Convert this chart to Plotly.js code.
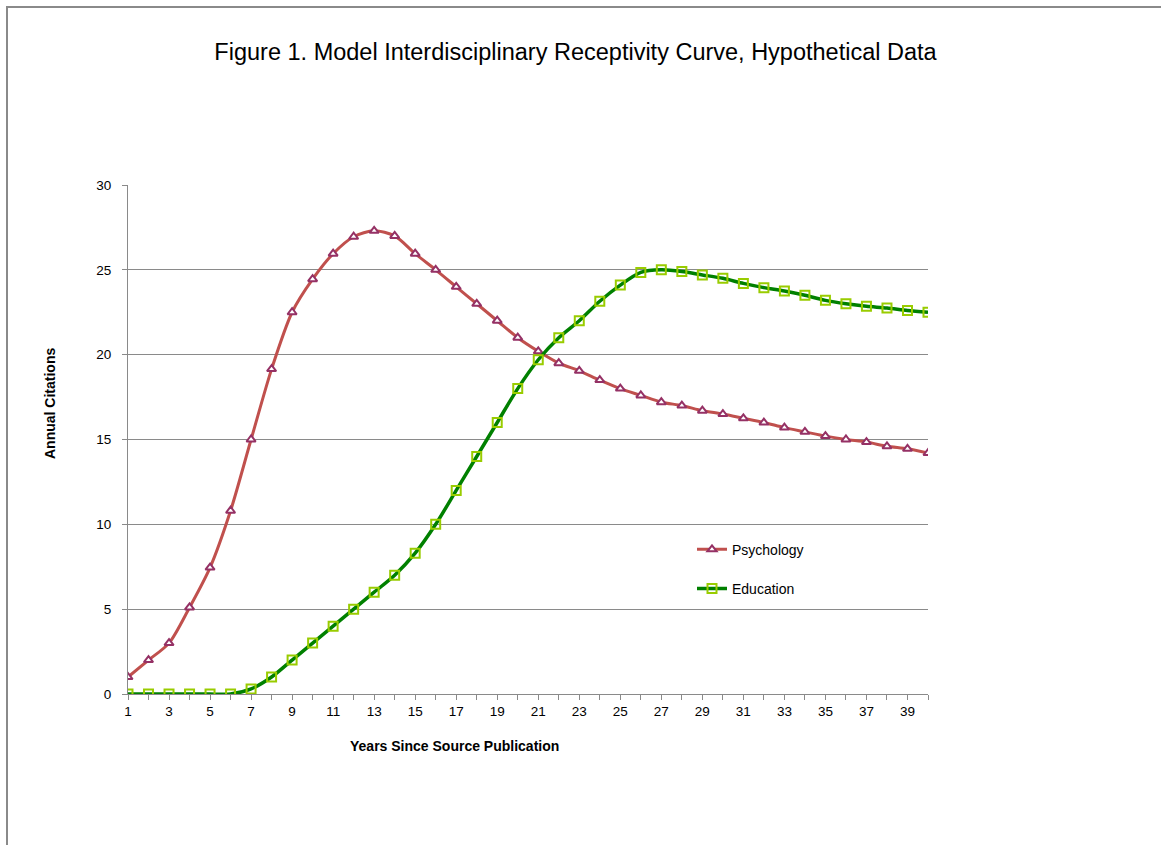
<!DOCTYPE html>
<html>
<head>
<meta charset="utf-8">
<script src="https://cdn.plot.ly/plotly-3.0.1.min.js"></script>
<style>
  html, body { margin: 0; padding: 0; background: #fff; }
  #wrap { position: relative; width: 1161px; height: 845px; overflow: hidden; }
  #frame { position: absolute; left: 6px; top: 6px; width: 1200px; height: 900px;
           border-top: 2px solid #8a8a8a; border-left: 2px solid #8a8a8a; }
  #chart { position: absolute; left: 0; top: 0; width: 1161px; height: 845px; }
</style>
</head>
<body>
<div id="wrap">
  <div id="frame"></div>
  <div id="chart"></div>
</div>
<script>
const years = [1,2,3,4,5,6,7,8,9,10,11,12,13,14,15,16,17,18,19,20,
               21,22,23,24,25,26,27,28,29,30,31,32,33,34,35,36,37,38,39,40];
const psychology = [1.0,2.0,3.0,5.1,7.45,10.8,15.0,19.15,22.5,24.45,
                    25.95,26.95,27.3,27.0,25.95,25.0,24.0,23.0,22.0,21.0,
                    20.2,19.5,19.05,18.5,18.0,17.6,17.2,17.0,16.7,16.5,
                    16.25,16.0,15.7,15.45,15.2,15.0,14.85,14.6,14.45,14.2];
const education = [0,0,0,0,0,0,0.3,1.0,2.0,3.0,
                   4.0,5.0,6.0,7.0,8.3,10.0,12.0,14.0,16.0,18.0,
                   19.7,21.0,22.0,23.15,24.1,24.85,25.0,24.9,24.7,24.5,
                   24.2,23.95,23.75,23.5,23.2,23.0,22.85,22.75,22.6,22.5];
const xTickVals = years;
const xTickText = ["1","","3","","5","","7","","9","","11","","13","","15","","17","","19","",
                   "21","","23","","25","","27","","29","","31","","33","","35","","37","","39",""];
const yGridVals = [5,10,15,20,25];
const yTickVals = [0,5,10,15,20,25,30];
const titleText = "Figure 1. Model Interdisciplinary Receptivity Curve, Hypothetical Data";
const xTitle = "Years Since Source Publication";
const yTitle = "Annual Citations";

const FONT = "Liberation Sans, Arial, sans-serif";

const traces = [
  {
    x: years, y: psychology, name: "Psychology", type: "scatter", mode: "lines+markers",
    legendgroup: "a",
    line: { color: "#C0504D", width: 3, shape: "spline", smoothing: 0.8 },
    marker: { symbol: "triangle-up", size: 8, color: "#ffffff",
              line: { color: "#953165", width: 2 } }
  },
  {
    x: years, y: education, name: "Education", type: "scatter", mode: "lines+markers",
    legendgroup: "b",
    line: { color: "#008000", width: 3.5, shape: "spline", smoothing: 0.8 },
    marker: { symbol: "square-open", size: 9, color: "#99CC00",
              line: { color: "#99CC00", width: 2 } }
  }
];

const layout = {
  width: 1161, height: 845,
  paper_bgcolor: "rgba(0,0,0,0)", plot_bgcolor: "rgba(0,0,0,0)",
  margin: { l: 128, r: 233, t: 185, b: 151 },
  font: { family: FONT, color: "#000" },
  title: { text: titleText, font: { size: 23.5, family: FONT, color: "#000" },
           x: 0.4957, xanchor: "center", y: 0.9385, yanchor: "middle", xref: "container", yref: "container" },
  xaxis: {
    range: [1, 40], tickmode: "array", tickvals: xTickVals, ticktext: xTickText,
    ticks: "outside", ticklen: 5, tickcolor: "#8a8a8a", tickwidth: 1,
    showline: true, linecolor: "#8a8a8a", linewidth: 1,
    showgrid: false, zeroline: false,
    tickfont: { size: 13.5, family: FONT }, tickangle: 0
  },
  yaxis: {
    range: [0, 30], tickmode: "array", tickvals: yGridVals,
    showticklabels: false, ticks: "",
    showgrid: true, gridcolor: "#8a8a8a", gridwidth: 1,
    zeroline: false, showline: false
  },
  yaxis2: {
    range: [0, 30], overlaying: "y", anchor: "x", side: "left",
    tickmode: "array", tickvals: yTickVals,
    ticks: "outside", ticklen: 5, tickcolor: "#8a8a8a", ticklabelstandoff: 8,
    showline: true, linecolor: "#8a8a8a", linewidth: 1,
    showgrid: false, zeroline: false,
    tickfont: { size: 13.5, family: FONT }
  },
  showlegend: true,
  legend: {
    x: 0.705, y: 0.315, xanchor: "left", yanchor: "top",
    bgcolor: "rgba(0,0,0,0)", traceorder: "grouped", tracegroupgap: 18,
    font: { size: 14, family: FONT, color: "#000" }
  },
  annotations: [
    { text: "<b>" + xTitle + "</b>", xref: "paper", yref: "paper",
      x: (454 - 128) / 800, y: -(746 - 694) / 509, xanchor: "center", yanchor: "middle",
      showarrow: false, font: { size: 14, family: FONT, color: "#000" } },
    { text: "<b>" + yTitle + "</b>", xref: "paper", yref: "paper", textangle: -90,
      x: -(128 - 50) / 800, y: (694 - 404) / 509, xanchor: "center", yanchor: "middle",
      showarrow: false, font: { size: 14, family: FONT, color: "#000" } }
  ]
};

// invisible helper trace so the overlaid label axis renders
traces.push({ x: [1], y: [0], yaxis: "y2", type: "scatter", mode: "markers",
              marker: { opacity: 0 }, showlegend: false, hoverinfo: "skip" });

Plotly.newPlot("chart", traces, layout, { displayModeBar: false, staticPlot: true });
</script>
</body>
</html>
